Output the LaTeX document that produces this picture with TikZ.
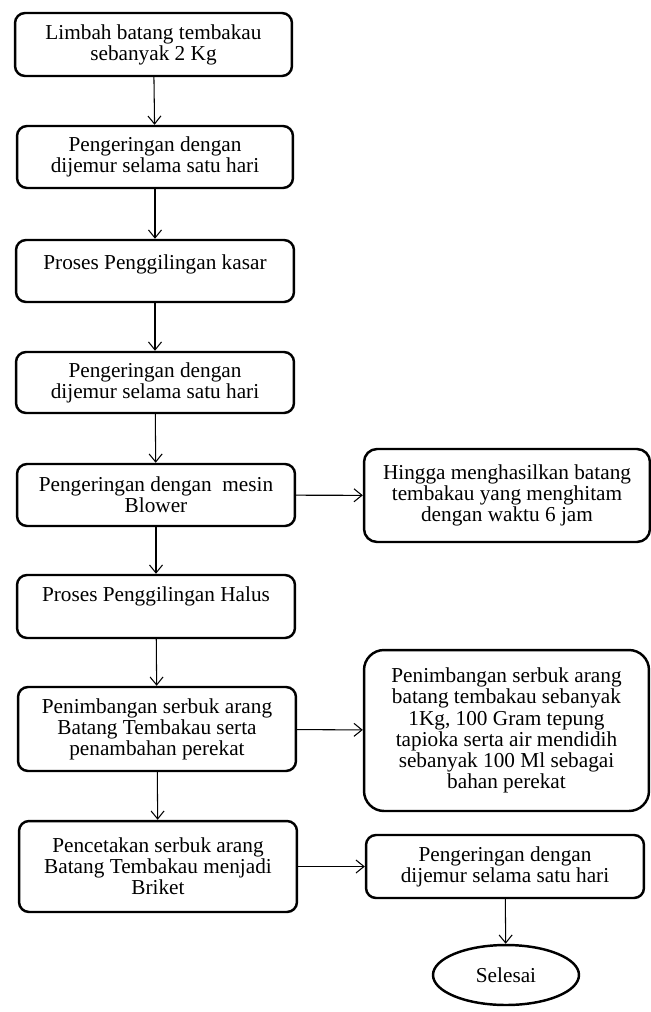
\documentclass[tikz,border=0pt]{standalone}
\usepackage{fontspec}
\setmainfont{Liberation Serif}
\usetikzlibrary{arrows.meta, shapes.geometric}
\tikzset{
	x = .02cm,
	y = -.02cm,
	line width = .6pt,
	>={Straight Barb[length=1.6mm, width=2.6mm]},
	font = \fontsize{12.1}{12}\selectfont,
	box/.style={
		draw,
		rounded corners=.2cm,
		line width=1.4pt,
		align=center,
		inner sep=2pt,
		minimum width=5.56cm
	},
	note box/.style={
		box,
		rounded corners=.26cm,
		minimum width=5.72cm
	},
	top text/.style={
		text height=9pt,
		text depth=#1
	},
	terminal/.style={
		draw,
		ellipse,
		line width=1.4pt,
		inner sep=0pt,
		minimum width=2.92cm,
		minimum height=1.2cm
	},
	flow/.style={
		->,
		line width=.6pt
	}
}

\begin{document}
\begin{tikzpicture}
		\useasboundingbox (0,0) rectangle (651,1012);

		\node[box, minimum width=5.54cm, minimum height=1.26cm] (b1) at (153.5,44.5) {Limbah batang tembakau\\sebanyak 2 Kg};
		\node[box, minimum width=5.52cm, minimum height=1.24cm] (b2) at (155,157) {Pengeringan dengan\\dijemur selama satu hari};
		\node[box, minimum height=1.24cm, top text=11pt] (b3) at (155,271) {Proses Penggilingan kasar};
		\node[box, minimum height=1.22cm] (b4) at (155,382.5) {Pengeringan dengan\\dijemur selama satu hari};
		\node[box, minimum height=1.24cm] (b5) at (156,495) {Pengeringan dengan\ \ mesin\\Blower};
		\node[box, minimum height=1.26cm, top text=15pt] (b6) at (156,606.5) {Proses Penggilingan Halus};
		\node[box, minimum height=1.68cm] (b7) at (157,729) {Penimbangan serbuk arang\\Batang Tembakau serta\\penambahan perekat};
		\node[box, minimum height=1.82cm] (b8) at (158,866.5) {Pencetakan serbuk arang\\Batang Tembakau menjadi\\Briket};

		\node[note box, minimum height=1.86cm] (k1) at (507,495.5) {Hingga menghasilkan batang\\tembakau yang menghitam\\dengan waktu 6 jam};
		\node[note box, rounded corners=.4cm, minimum width=5.7cm, minimum height=3.22cm] (k2) at (506.5,730.5) {Penimbangan serbuk arang\\batang tembakau sebanyak\\1Kg, 100 Gram tepung\\tapioka serta air mendidih\\sebanyak 100 Ml sebagai\\bahan perekat};
		\node[box, minimum height=1.26cm] (k3) at (505,866.5) {Pengeringan dengan\\dijemur selama satu hari};
		\node[terminal] (end) at (506,975) {Selesai};

		\draw[flow] (b1) -- (b2);
		\draw[flow] (b2) -- (b3);
		\draw[flow] (b3) -- (b4);
		\draw[flow] (b4) -- (b5);
		\draw[flow] (b5) -- (b6);
		\draw[flow] (b6) -- (b7);
		\draw[flow] (b7) -- (b8);
		\draw[flow] (b5) -- (k1);
		\draw[flow] (b7) -- (k2);
		\draw[flow] (b8) -- (k3);
		\draw[flow] (k3) -- (end);
	\end{tikzpicture}
\end{document}
